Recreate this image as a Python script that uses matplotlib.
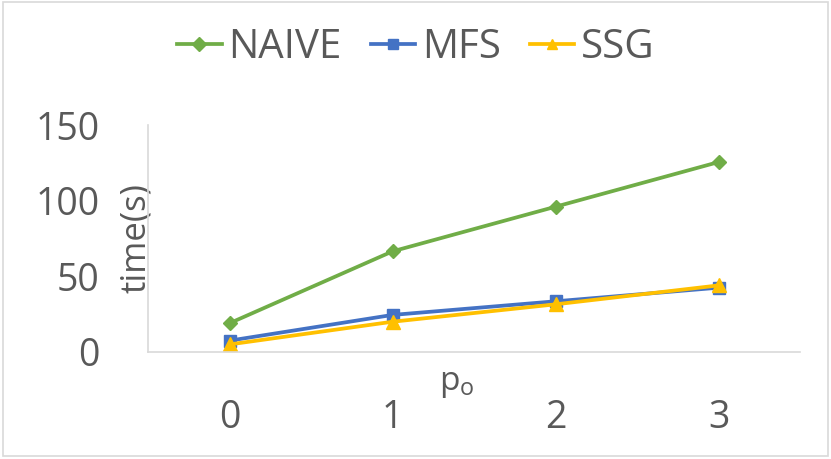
import numpy as np
import matplotlib.pyplot as plt
from matplotlib.patches import Rectangle

plt.rcParams['font.family'] = ['Open Sans', 'DejaVu Sans']

x_labels = ["0", "1", "2", "3"]
naive = [19, 66.5, 96, 125.5]
mfs = [7.5, 24.5, 33.5, 42.5]
ssg = [5, 20, 31.5, 44]

txt = "#595959"
fig = plt.figure(figsize=(8.31, 4.59), dpi=100)
ax = fig.add_axes([148/831, 1-352/459, 652/831, 227/459])
xs = np.arange(len(x_labels))
ax.plot(xs, naive, color="#70AD47", lw=2.7, marker="D", ms=7.5, label="NAIVE")
ax.plot(xs, mfs, color="#4472C4", lw=2.7, marker="s", ms=8.5, label="MFS")
ax.plot(xs, ssg, color="#FFC000", lw=2.7, marker="^", ms=10, label="SSG")

ax.set_xlim(-0.5, 3.5)
ax.set_ylim(0, 150)
ax.set_yticks([0, 50, 100, 150])
ax.set_xticks(xs)
ax.set_xticklabels(x_labels)
ax.tick_params(length=0, labelsize=27, colors=txt)
ax.tick_params(axis="y", pad=35)
ax.tick_params(axis="x", pad=34)
for s in ["top", "right"]:
    ax.spines[s].set_visible(False)
for s in ["left", "bottom"]:
    ax.spines[s].set_color("#D9D9D9")
    ax.spines[s].set_linewidth(1.2)

ax.set_ylabel("time(s)", fontsize=25, color=txt)
ax.yaxis.set_label_coords(0.008, 0.5)
fig.text(457/831, 1-383/459, r"p$_\mathregular{o}$", fontsize=24, color=txt,
         ha="center", va="center")

leg = fig.legend(loc="center", bbox_to_anchor=(416/831, 1-48/459), ncol=3,
                 frameon=False, fontsize=29, handlelength=1.1, handletextpad=0.17,
                 columnspacing=0.72, labelcolor=txt)
for h in leg.legend_handles:
    h.set_markersize(7.5)

fig.patches.append(Rectangle((0.004, 0.006), 0.992, 0.99, transform=fig.transFigure,
                             fill=False, edgecolor="#D9D9D9", lw=1.2))
fig.savefig("out.png", dpi=100)
